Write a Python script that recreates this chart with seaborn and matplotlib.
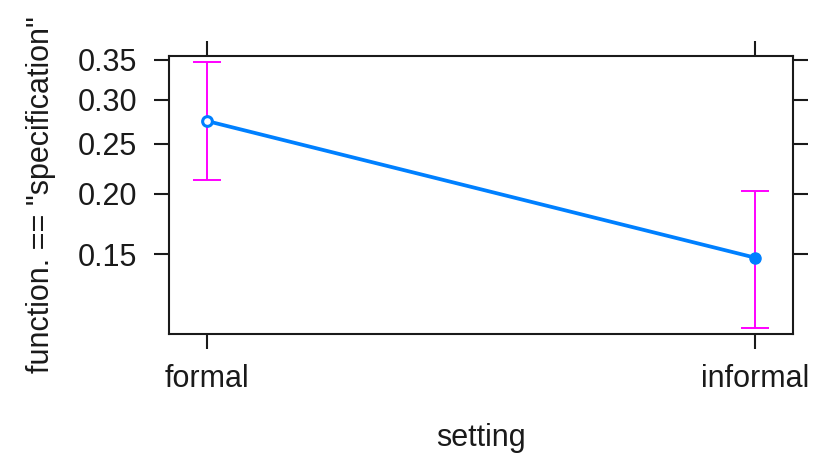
import matplotlib
matplotlib.use("Agg")
import matplotlib.pyplot as plt
import numpy as np
import pandas as pd
import seaborn as sns

# values (logit scaled y axis)
setting = ["formal", "informal"]
fit = [0.275, 0.1476]
lower = [0.2125, 0.1035]
upper = [0.347, 0.2028]
ytick_vals = [0.15, 0.20, 0.25, 0.30, 0.35]
ytick_labels = ["0.15", "0.20", "0.25", "0.30", "0.35"]

df = pd.DataFrame({"setting": setting, "fit": fit, "lower": lower, "upper": upper})

sns.set_style("ticks")
plt.rcParams["font.family"] = ["Liberation Sans", "DejaVu Sans"]
plt.rcParams["font.size"] = 22

fig = plt.figure(figsize=(8.15, 4.54), dpi=100)
ax = fig.add_axes([169 / 815, 1 - 334 / 454, 624 / 815, 278 / 454])

ax.set_yscale("logit")

# confidence bars
pos = np.arange(len(df))
yerr = np.vstack([df["fit"] - df["lower"], df["upper"] - df["fit"]])
ax.errorbar(pos, df["fit"], yerr=yerr, fmt="none", ecolor="#ff00ff",
            elinewidth=1.4, capsize=10, capthick=1.4, zorder=2)

# fitted line
sns.lineplot(data=df, x=pos, y="fit", color="#0080ff", linewidth=2.7,
             ax=ax, zorder=3)
# markers: first looks hollow in the original, second filled
ax.plot(pos[:1], df["fit"][:1], "o", ms=7, mfc="white", mec="#0080ff", mew=2.2, zorder=4)
ax.plot(pos[1:], df["fit"][1:], "o", ms=8, mfc="#0080ff", mec="#0080ff", zorder=4)

ax.set_ylim(0.1005, 0.3552)
ax.set_xlim(-0.0694, 1.0694)
ax.set_yticks(ytick_vals)
ax.set_yticklabels(ytick_labels)
ax.yaxis.set_minor_locator(matplotlib.ticker.NullLocator())
ax.set_xticks(pos)
ax.set_xticklabels(setting)

for s in ax.spines.values():
    s.set_visible(True)
    s.set_linewidth(1.5)
    s.set_color("#1a1a1a")

ax.tick_params(axis="both", which="major", direction="out", length=10.8, width=1.5,
               color="#1a1a1a", labelcolor="#1a1a1a", labelsize=22,
               top=True, right=True, labeltop=False, labelright=False)
ax.tick_params(axis="y", pad=12)
ax.tick_params(axis="x", pad=11)

ax.set_xlabel("setting", fontsize=22, color="#1a1a1a", va="baseline")
ax.xaxis.set_label_coords(0.5, (334 - 446) / 278)
ax.set_ylabel('function. == "specification"', fontsize=22, color="#1a1a1a", va="baseline")
ax.yaxis.set_label_coords((49 - 169) / 624, 0.5)

fig.savefig("out.png", dpi=100)
